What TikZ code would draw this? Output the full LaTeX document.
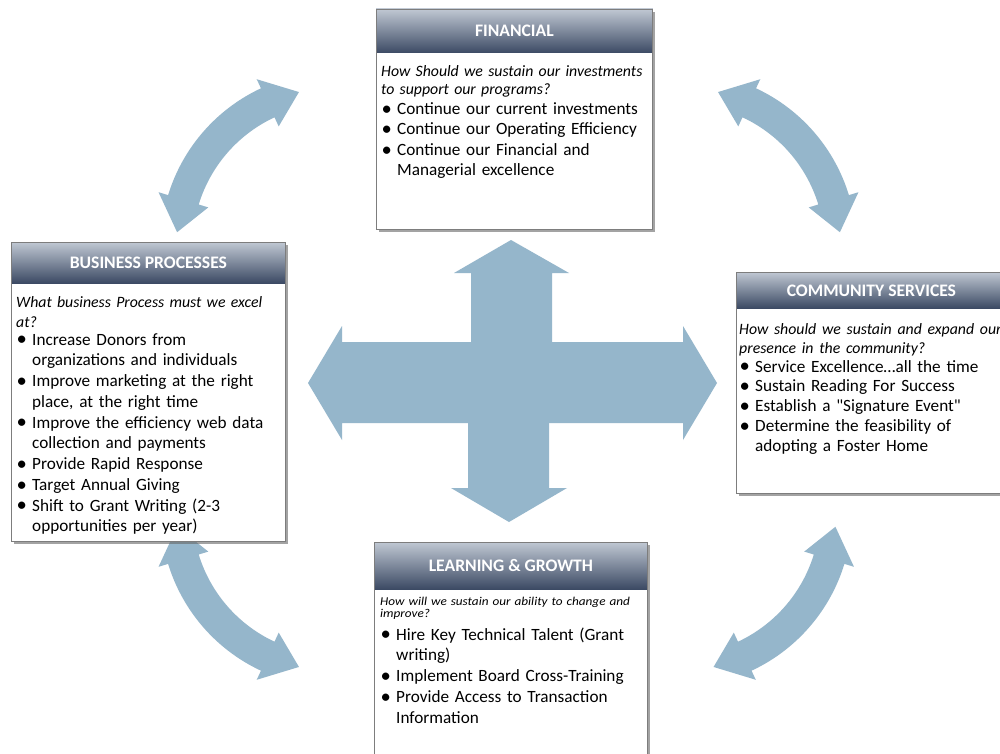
\documentclass[tikz,border=0pt]{standalone}
\usepackage{fontspec}
\setmainfont{Carlito}
\newfontfamily\qfont{Carlito}
\usetikzlibrary{calc,shadows}
\definecolor{arrowblue}{RGB}{149,182,203}
\definecolor{hdtop}{RGB}{192,200,211}
\definecolor{hdbot}{RGB}{60,74,100}
\definecolor{boxline}{RGB}{125,125,125}
\newcommand{\bitem}[1]{\makebox[16pt][l]{\hspace{0.5pt}\raisebox{-0.8pt}{\scalebox{1.2}{\textbullet}}}#1}
\newcommand{\citem}[1]{\hspace*{16pt}#1}
\newcommand{\cArrow}[5]{%
  \fill[arrowblue]
    plot[smooth,domain=#4:#5,samples=30] ({#1+(#3+16)*cos(\x)},{#2+(#3+16)*sin(\x)})
    -- ({#1+(#3+26)*cos(#5)},{#2+(#3+26)*sin(#5)})
    -- ({#1+#3*cos(#5+12)},{#2+#3*sin(#5+12)})
    -- ({#1+(#3-26)*cos(#5)},{#2+(#3-26)*sin(#5)})
    -- plot[smooth,domain=#5:#4,samples=30] ({#1+(#3-16)*cos(\x)},{#2+(#3-16)*sin(\x)})
    -- ({#1+(#3-26)*cos(#4)},{#2+(#3-26)*sin(#4)})
    -- ({#1+#3*cos(#4-12)},{#2+#3*sin(#4-12)})
    -- ({#1+(#3+26)*cos(#4)},{#2+(#3+26)*sin(#4)})
    -- cycle;}
\begin{document}
\begin{tikzpicture}[x=1pt,y=-1pt,
  box/.style={draw=boxline, line width=0.8pt, fill=white, rectangle, anchor=north west, inner sep=0pt,
    drop shadow={shadow xshift=3pt, shadow yshift=-3pt, fill=black!60, opacity=0.6}},
  titletext/.style={text=white, font=\bfseries\fontsize{17.6}{19}\selectfont, inner sep=0pt},
  qtext/.style={anchor=north west, inner sep=0pt, align=left, text width=330pt, font=\itshape\fontsize{15.8}{#1}\selectfont},
  btext/.style={anchor=north west, inner sep=0pt, align=left, text width=330pt, font=\fontsize{17.2}{#1}\selectfont},
  smalltext/.style={anchor=north west, inner sep=0pt, align=left, text width=330pt,
    font=\itshape\fontsize{12}{12}\selectfont\addfontfeature{FakeStretch=1.1}},
  hdshade/.style={top color=hdtop, bottom color=hdbot, draw=none}
]
\useasboundingbox (0,0) rectangle (1000,754);
\clip (0,0) rectangle (1000,754);
\fill[white] (0,0) rectangle (1000,754);

% curved arrows
\cArrow{334.5}{246}{158}{197}{245}
\cArrow{682.5}{246}{158}{295}{343}
\cArrow{334.5}{513}{158}{115}{163}
\cArrow{678}{513}{158}{17}{65}

% central cross
\fill[arrowblue] (308,383) -- (342,326) -- (342,342) -- (683,342) -- (683,326) -- (717,383)
  -- (683,440) -- (683,423) -- (342,423) -- (342,440) -- cycle;
\fill[arrowblue] (471,343) -- (471,273) -- (454,273) -- (511,240) -- (569,273) -- (552,273) -- (552,343) -- cycle;
\fill[arrowblue] (468,422) -- (468,488) -- (451,488) -- (509,522) -- (567,488) -- (549,488) -- (549,422) -- cycle;

% FINANCIAL
\node[box, minimum width=276pt, minimum height=220pt] (fin) at (376,9) {};
\shade[hdshade] (fin.north west) rectangle ($(fin.north east)+(0,44)$);
\draw[boxline, line width=0.8pt] (fin.north west) rectangle (fin.south east);
\node[titletext] (fint) at ($(fin.north)+(0,22)$) {FINANCIAL};
\node[qtext=18.3] (finq) at (381,63) {\strut How Should we sustain our investments\\
to support our programs?};
\node[btext=20.5] (finb) at (381,99.9) {\strut\bitem{Continue our current investments}\\
\bitem{Continue our Operating Efficiency}\\
\bitem{Continue our Financial and}\\
\citem{Managerial excellence}};

% BUSINESS PROCESSES
\node[box, minimum width=274pt, minimum height=299pt] (bus) at (11,242) {};
\shade[hdshade] (bus.north west) rectangle ($(bus.north east)+(0,41)$);
\draw[boxline, line width=0.8pt] (bus.north west) rectangle (bus.south east);
\node[titletext] (bust) at ($(bus.north)+(0,20.5)$) {BUSINESS PROCESSES};
\node[qtext=20] (busq) at (16,293.4) {\strut What business Process must we excel\\
at?};
\node[btext=20.75] (busb) at (16,330.3) {\strut\bitem{Increase Donors from}\\
\citem{organizations and individuals}\\
\bitem{Improve marketing at the right}\\
\citem{place, at the right time}\\
\bitem{Improve the efficiency web data}\\
\citem{collection and payments}\\
\bitem{Provide Rapid Response}\\
\bitem{Target Annual Giving}\\
\bitem{Shift to Grant Writing (2-3}\\
\citem{opportunities per year)}};

% COMMUNITY SERVICES
\node[box, minimum width=270pt, minimum height=221pt] (com) at (736,272) {};
\shade[hdshade] (com.north west) rectangle ($(com.north east)+(0,36)$);
\draw[boxline, line width=0.8pt] (com.north west) rectangle (com.south east);
\node[titletext] (comt) at ($(com.north)+(0,18.5)$) {COMMUNITY SERVICES};
\node[btext=19.75] (comb) at (739,320) {\strut{\itshape\fontsize{15.8}{19.75}\selectfont How should we sustain and expand our}\\
{\itshape\fontsize{15.8}{19.75}\selectfont presence in the community?}\\[-1.5pt]
\bitem{Service Excellence…all the time}\\
\bitem{Sustain Reading For Success}\\
\bitem{Establish a {\qfont"}Signature Event{\qfont"}}\\
\bitem{Determine the feasibility of}\\
\citem{adopting a Foster Home}};

% LEARNING & GROWTH
\node[box, minimum width=273pt, minimum height=240pt] (lea) at (374,542) {};
\shade[hdshade] (lea.north west) rectangle ($(lea.north east)+(0,47)$);
\draw[boxline, line width=0.8pt] (lea.north west) rectangle (lea.south east);
\node[titletext] (leat) at ($(lea.north)+(0,23)$) {LEARNING \& GROWTH};
\node[smalltext] (leaq) at (380,597) {\strut How will we sustain our ability to change and\\ improve?};
\node[btext=20.8] (leab) at (380,625.4) {\strut\bitem{Hire Key Technical Talent (Grant}\\
\citem{writing)}\\
\bitem{Implement Board Cross-Training}\\
\bitem{Provide Access to Transaction}\\
\citem{Information}};
\end{tikzpicture}
\end{document}
